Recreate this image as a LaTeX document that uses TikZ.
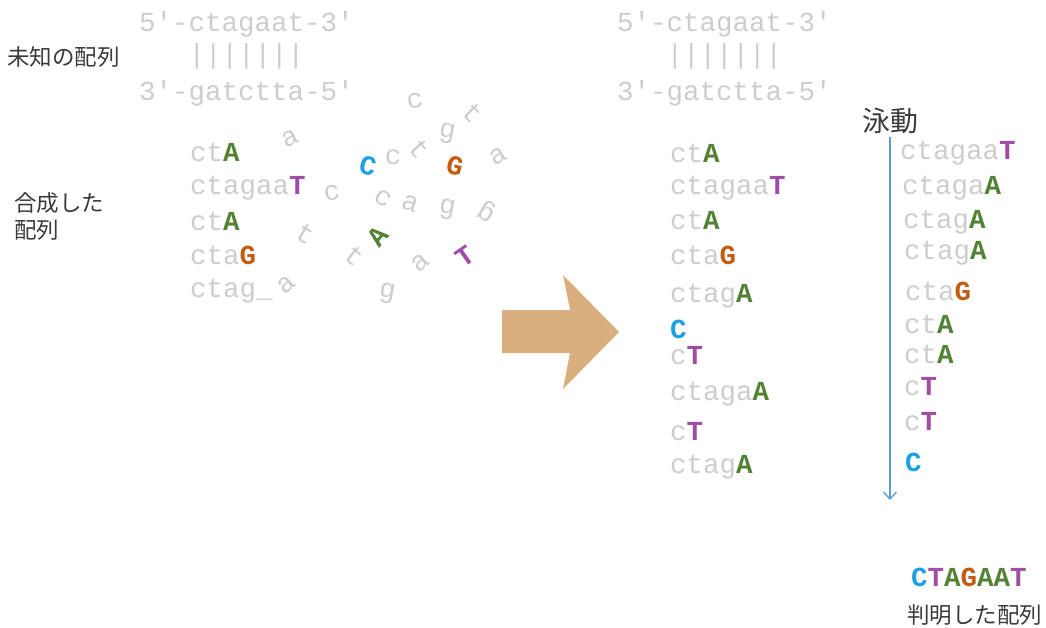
\documentclass[tikz,border=0pt]{standalone}
\usepackage{fontspec}
\usetikzlibrary{arrows.meta,positioning}

\newfontfamily\dnafont{Liberation Mono}
\newfontfamily\jpfont{Noto Sans CJK JP}

\definecolor{basegray}{HTML}{CDCDCD}
\definecolor{baseA}{HTML}{548235}
\definecolor{baseT}{HTML}{A04CA4}
\definecolor{baseG}{HTML}{C55A11}
\definecolor{baseC}{HTML}{1BA1E2}
\definecolor{gelblue}{HTML}{5B9BD5}
\definecolor{arrowtan}{HTML}{D9AF7E}
\definecolor{jptext}{HTML}{3A3A3A}

\newcommand{\bA}{{\bfseries\color{baseA}A}}
\newcommand{\bT}{{\bfseries\color{baseT}T}}
\newcommand{\bG}{{\bfseries\color{baseG}G}}
\newcommand{\bC}{{\bfseries\color{baseC}C}}

\tikzset{
  dna/.style = {font={\dnafont\fontsize{27.5}{27.5}\selectfont}, text=basegray, inner sep=0pt},
  seq/.style = {dna, anchor=base west},
  jp/.style  = {font={\jpfont\fontsize{22.5}{27}\selectfont}, text=jptext, inner sep=0pt, align=left},
}

\begin{document}
\begin{tikzpicture}[x=1pt, y=-1pt]
  \useasboundingbox (0,0) rectangle (1046,628);

  % unknown double strand, before and after
  \node[seq] (top1) at (139,32) {5′-ctagaat-3′};
  \node[seq] (bar1) at (139,64) {\phantom{5′-}|||||||};
  \node[seq] (bot1) at (139,101) {3′-gatctta-5′};
  \node[seq] (top2) at (617,32) {5′-ctagaat-3′};
  \node[seq] (bar2) at (617,64) {\phantom{5′-}|||||||};
  \node[seq] (bot2) at (617,101) {3′-gatctta-5′};

  \node[jp, anchor=west] (unknown) at (7,57) {未知の配列};
  \node[jp, anchor=north west] (synth) at (14,192) {合成した\\配列};

  % synthesised pieces
  \node[seq] (s1) at (190,162) {ct\bA};
  \node[seq] (s2) at (190,195) {ctagaa\bT};
  \node[seq] (s3) at (190,231) {ct\bA};
  \node[seq] (s4) at (190,265) {cta\bG};
  \node[seq] (s5) at (190,298) {ctag\_};

  % loose bases
  \foreach \px/\py/\r/\ch [count=\i] in {
      290/138/25/a, 415/101/10/c, 473/113/-45/t, 447/133/-10/g,
      498/156/30/a, 368/166/-15/\bC, 393/157/0/c, 419/149/-50/t,
      455/166/-15/\bG, 332/193/10/c, 383/198/-30/c, 410/203/-20/a,
      447/209/-10/g, 487/211/150/g, 305/234/-30/t, 378/236/50/\bA,
      465/256/35/\bT, 355/256/-40/t, 420/263/40/a, 286/285/40/a,
      387/293/-10/g}
    \node[dna, rotate=\r] (free\i) at (\px,\py) {\ch};

  % big arrow
  \fill[arrowtan] (502,310) -- (570,310) -- (563,275) -- (619,332)
    -- (563,389) -- (570,353) -- (502,353) -- cycle;

  % collected pieces
  \node[seq] (c1) at (670,163) {ct\bA};
  \node[seq] (c2) at (670,195) {ctagaa\bT};
  \node[seq] (c3) at (670,230) {ct\bA};
  \node[seq] (c4) at (670,265) {cta\bG};
  \node[seq] (c5) at (670,302) {ctag\bA};
  \node[seq] (c6) at (670,338) {\bC};
  \node[seq] (c7) at (670,364) {c\bT};
  \node[seq] (c8) at (670,400) {ctaga\bA};
  \node[seq] (c9) at (670,440) {c\bT};
  \node[seq] (c10) at (670,473) {ctag\bA};

  % electrophoresis
  \node[jp, font={\jpfont\fontsize{28}{28}\selectfont}, anchor=west] (gel) at (862,121) {泳動};
  \coordinate (gtop) at (890,137);
  \coordinate (gbot) at (890,500);
  \draw[gelblue, line width=1.3pt, -{Straight Barb[length=7pt,width=13pt]}] (gtop) -- (gbot);

  \node[seq] (g1) at (900,160) {ctagaa\bT};
  \node[seq] (g2) at (902,195) {ctaga\bA};
  \node[seq] (g3) at (903,229) {ctag\bA};
  \node[seq] (g4) at (904,260) {ctag\bA};
  \node[seq] (g5) at (905,300) {cta\bG};
  \node[seq] (g6) at (904,333) {ct\bA};
  \node[seq] (g7) at (904,363) {ct\bA};
  \node[seq] (g8) at (904,395) {c\bT};
  \node[seq] (g9) at (904,430) {c\bT};
  \node[seq] (g10) at (905,471) {\bC};

  % result
  \node[seq] (result) at (911,586) {\bC\bT\bA\bG\bA\bA\bT};
  \node[jp, anchor=west] (known) at (907,615) {判明した配列};
\end{tikzpicture}
\end{document}
